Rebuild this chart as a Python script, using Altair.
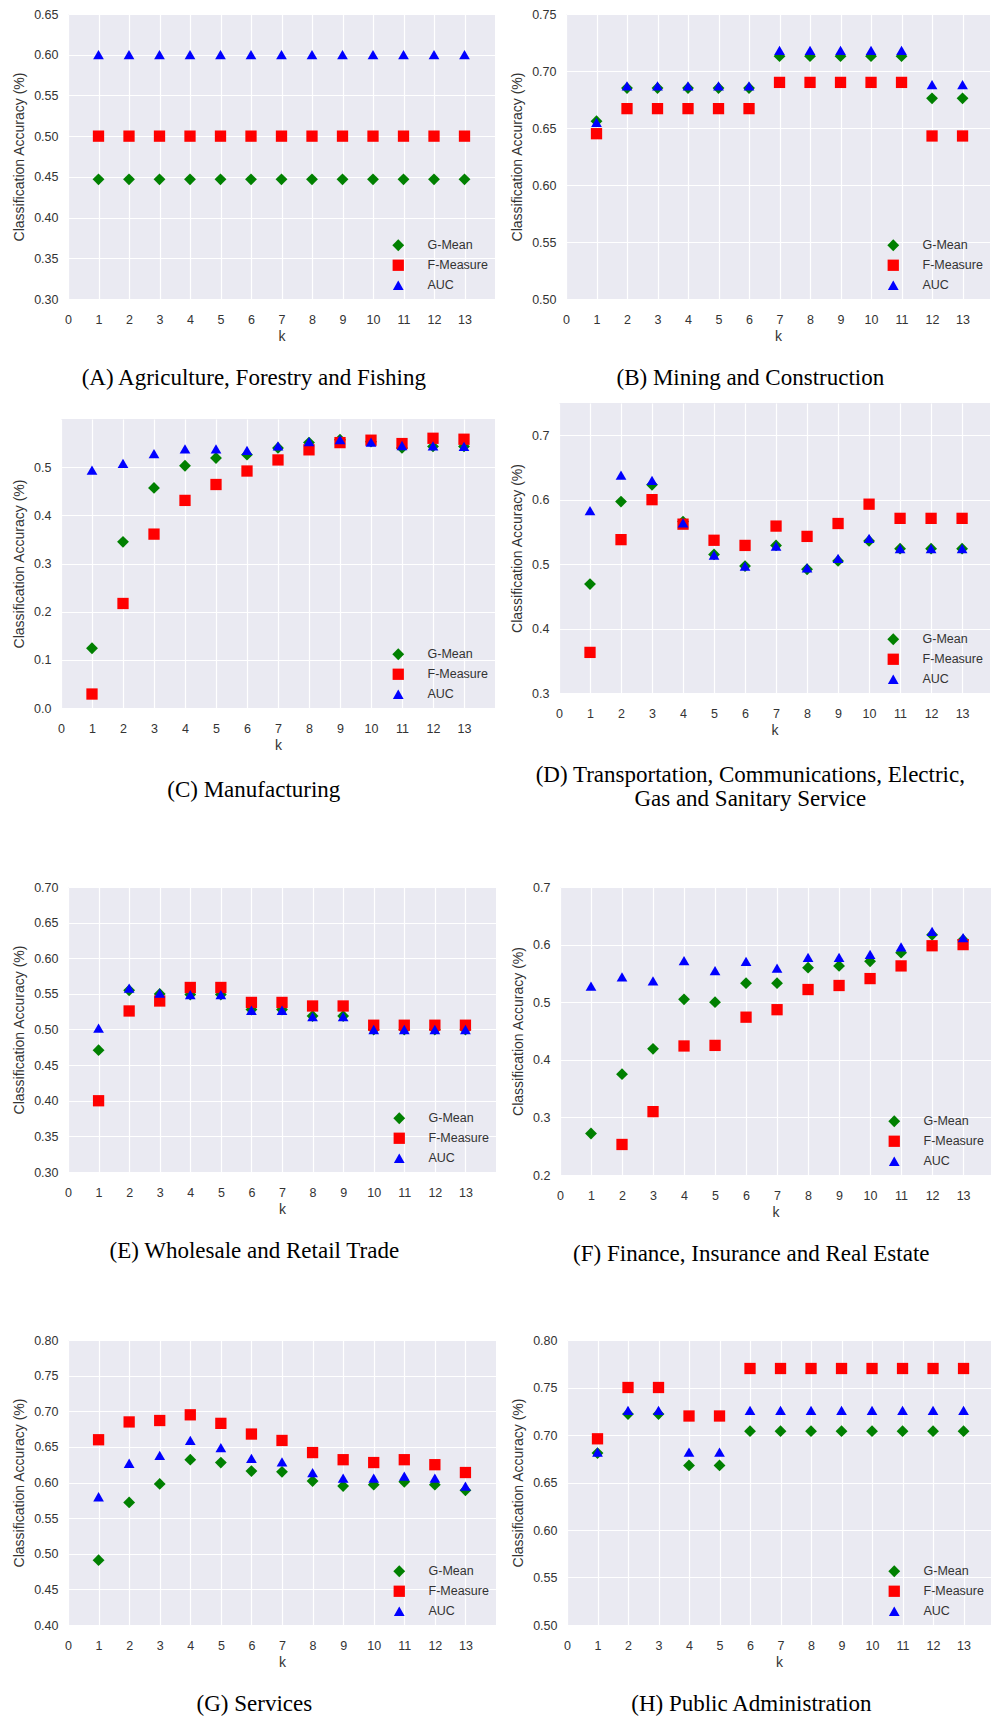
import altair as alt
import pandas as pd

K = [1, 2, 3, 4, 5, 6, 7, 8, 9, 10, 11, 12, 13]
SERIES = ["G-Mean", "F-Measure", "AUC"]
COLORS = ["#008000", "#ff0000", "#0000ff"]
SHAPES = ["diamond", "square", "triangle-up"]
SIZES = [140, 115, 90]
X_TICKS = [0, 1, 2, 3, 4, 5, 6, 7, 8, 9, 10, 11, 12, 13]

# (A) Agriculture, Forestry and Fishing
A_G = [0.447, 0.447, 0.447, 0.447, 0.447, 0.447, 0.447, 0.447, 0.447, 0.447, 0.447, 0.447, 0.447]
A_F = [0.500, 0.500, 0.500, 0.500, 0.500, 0.500, 0.500, 0.500, 0.500, 0.500, 0.500, 0.500, 0.500]
A_AUC = [0.600, 0.600, 0.600, 0.600, 0.600, 0.600, 0.600, 0.600, 0.600, 0.600, 0.600, 0.600, 0.600]
A_Y = [0.30, 0.35, 0.40, 0.45, 0.50, 0.55, 0.60, 0.65]

# (B) Mining and Construction
B_G = [0.656, 0.685, 0.685, 0.685, 0.685, 0.685, 0.713, 0.713, 0.713, 0.713, 0.713, 0.676, 0.676]
B_F = [0.645, 0.667, 0.667, 0.667, 0.667, 0.667, 0.690, 0.690, 0.690, 0.690, 0.690, 0.643, 0.643]
B_AUC = [0.655, 0.687, 0.687, 0.687, 0.687, 0.687, 0.718, 0.718, 0.718, 0.718, 0.718, 0.688, 0.688]
B_Y = [0.50, 0.55, 0.60, 0.65, 0.70, 0.75]

# (C) Manufacturing
C_G = [0.124, 0.345, 0.457, 0.503, 0.519, 0.526, 0.540, 0.551, 0.557, 0.553, 0.540, 0.543, 0.543]
C_F = [0.029, 0.217, 0.361, 0.431, 0.464, 0.492, 0.515, 0.536, 0.551, 0.556, 0.549, 0.560, 0.558]
C_AUC = [0.494, 0.508, 0.528, 0.538, 0.538, 0.535, 0.544, 0.553, 0.557, 0.552, 0.545, 0.544, 0.543]
C_Y = [0.0, 0.1, 0.2, 0.3, 0.4, 0.5]

# (D) Transportation, Communications, Electric, Gas and Sanitary Service
D_G = [0.469, 0.597, 0.623, 0.566, 0.515, 0.497, 0.529, 0.492, 0.505, 0.536, 0.524, 0.524, 0.524]
D_F = [0.363, 0.538, 0.600, 0.562, 0.537, 0.529, 0.559, 0.543, 0.563, 0.593, 0.571, 0.571, 0.571]
D_AUC = [0.583, 0.638, 0.630, 0.564, 0.514, 0.497, 0.528, 0.494, 0.509, 0.540, 0.524, 0.524, 0.524]
D_Y = [0.3, 0.4, 0.5, 0.6, 0.7]

# (E) Wholesale and Retail Trade
E_G = [0.471, 0.555, 0.550, 0.549, 0.549, 0.528, 0.528, 0.519, 0.519, 0.500, 0.500, 0.500, 0.500]
E_F = [0.400, 0.526, 0.540, 0.559, 0.559, 0.538, 0.538, 0.533, 0.533, 0.506, 0.506, 0.506, 0.506]
E_AUC = [0.502, 0.558, 0.551, 0.549, 0.549, 0.527, 0.527, 0.518, 0.518, 0.500, 0.500, 0.500, 0.500]
E_Y = [0.30, 0.35, 0.40, 0.45, 0.50, 0.55, 0.60, 0.65, 0.70]

# (F) Finance, Insurance and Real Estate  (F-Measure at k=1 lies below the axis)
F_G = [0.272, 0.375, 0.419, 0.505, 0.500, 0.533, 0.533, 0.560, 0.563, 0.571, 0.586, 0.617, 0.608]
F_F = [None, 0.253, 0.310, 0.424, 0.425, 0.474, 0.487, 0.522, 0.529, 0.541, 0.563, 0.598, 0.600]
F_AUC = [0.528, 0.544, 0.537, 0.572, 0.555, 0.571, 0.559, 0.578, 0.578, 0.583, 0.596, 0.623, 0.612]
F_Y = [0.2, 0.3, 0.4, 0.5, 0.6, 0.7]

# (G) Services
G_G = [0.491, 0.572, 0.598, 0.632, 0.628, 0.616, 0.615, 0.602, 0.595, 0.597, 0.601, 0.597, 0.589]
G_F = [0.660, 0.685, 0.687, 0.695, 0.683, 0.668, 0.659, 0.642, 0.632, 0.628, 0.632, 0.625, 0.614]
G_AUC = [0.580, 0.627, 0.638, 0.659, 0.649, 0.634, 0.629, 0.614, 0.606, 0.606, 0.609, 0.606, 0.595]
G_Y = [0.40, 0.45, 0.50, 0.55, 0.60, 0.65, 0.70, 0.75, 0.80]

# (H) Public Administration
H_G = [0.681, 0.722, 0.722, 0.668, 0.668, 0.704, 0.704, 0.704, 0.704, 0.704, 0.704, 0.704, 0.704]
H_F = [0.696, 0.750, 0.750, 0.720, 0.720, 0.770, 0.770, 0.770, 0.770, 0.770, 0.770, 0.770, 0.770]
H_AUC = [0.682, 0.726, 0.726, 0.682, 0.682, 0.726, 0.726, 0.726, 0.726, 0.726, 0.726, 0.726, 0.726]
H_Y = [0.50, 0.55, 0.60, 0.65, 0.70, 0.75, 0.80]

CAP_FONT = "Liberation Serif"
SANS = "Liberation Sans"
TXT = "#333333"

SP = pd.DataFrame({"z": [0]})


def spacer(w, h):
    return alt.Chart(SP).mark_rect(opacity=0).encode(
        x=alt.value(0), x2=alt.value(w), y=alt.value(0), y2=alt.value(h)
    ).properties(width=w, height=h)


def legend():
    return alt.Legend(
        title=None, orient="bottom-right", offset=7, padding=0,
        labelOffset=23, rowPadding=7, symbolStrokeWidth=0,
        labelFont=SANS, labelFontSize=12.5, labelColor=TXT,
    )


def panel(g, f, a, caption, ydom, yticks, yfmt, w, h, xmax, cap_offset=23):
    rows = []
    for name, vals in zip(SERIES, [g, f, a]):
        for k, v in zip(K, vals):
            if v is not None:
                rows.append({"k": k, "v": v, "s": name})
    df = pd.DataFrame(rows)
    return alt.Chart(df).mark_point(filled=True, opacity=1, clip=True).encode(
        x=alt.X("k:Q", scale=alt.Scale(domain=[0, xmax], nice=False, zero=False),
                axis=alt.Axis(values=X_TICKS, title="k", labelPadding=14,
                              titlePadding=4, format="d")),
        y=alt.Y("v:Q", scale=alt.Scale(domain=ydom, nice=False, zero=False),
                axis=alt.Axis(values=yticks, format=yfmt,
                              title="Classification Accuracy (%)", titlePadding=7)),
        color=alt.Color("s:N", scale=alt.Scale(domain=SERIES, range=COLORS), legend=legend()),
        shape=alt.Shape("s:N", scale=alt.Scale(domain=SERIES, range=SHAPES), legend=legend()),
        size=alt.Size("s:N", scale=alt.Scale(domain=SERIES, range=SIZES), legend=legend()),
    ).properties(
        width=w, height=h,
        view=alt.ViewBackground(fill="#EAEAF2", stroke=None),
        title=alt.TitleParams(
            text=caption, orient="bottom", anchor="middle", frame="bounds",
            font=CAP_FONT, fontSize=23, fontWeight="normal", color="black",
            offset=cap_offset, lineHeight=24, baseline="top",
        ),
    )


def indep(ch):
    return ch.resolve_scale(
        color="independent", shape="independent", size="independent",
        x="independent", y="independent",
    ).resolve_legend(color="independent", shape="independent", size="independent")


pA = panel(A_G, A_F, A_AUC, "(A) Agriculture, Forestry and Fishing", [0.30, 0.65], A_Y, ".2f", 427, 285, 14)
pB = panel(B_G, B_F, B_AUC, "(B) Mining and Construction", [0.50, 0.75], B_Y, ".2f", 424, 285, 13.9)
pC = panel(C_G, C_F, C_AUC, "(C) Manufacturing", [0.0, 0.6], C_Y, ".1f", 434, 289, 14, cap_offset=26)
pD = panel(D_G, D_F, D_AUC, ["(D) Transportation, Communications, Electric,", "Gas and Sanitary Service"],
           [0.3, 0.75], D_Y, ".1f", 431, 290, 13.9, cap_offset=26)
pE = panel(E_G, E_F, E_AUC, "(E) Wholesale and Retail Trade", [0.30, 0.70], E_Y, ".2f", 428, 285, 14)
pF = panel(F_G, F_F, F_AUC, "(F) Finance, Insurance and Real Estate", [0.2, 0.7], F_Y, ".1f", 431, 288, 13.9)
pG = panel(G_G, G_F, G_AUC, "(G) Services", [0.40, 0.80], G_Y, ".2f", 428, 285, 14)
pH = panel(H_G, H_F, H_AUC, "(H) Public Administration", [0.50, 0.80], H_Y, ".2f", 424, 285, 13.9)

pC_wrapped = indep(alt.vconcat(spacer(1, 16), pC, spacing=0))


def row(left, right, pitch):
    inner = indep(alt.hconcat(left, right, spacing=15))
    return indep(alt.hconcat(spacer(12, pitch), inner, spacing=0))


chart = indep(alt.vconcat(
    row(pA, pB, 389),
    row(pC_wrapped, pD, 478),
    row(pE, pF, 447),
    row(pG, pH, 2),
    spacing=0,
)).properties(
    padding={"left": 0, "top": 8, "right": 0, "bottom": 0},
    background="white",
).configure(
    font=SANS,
).configure_view(
    stroke=None,
).configure_axis(
    domain=False, ticks=False, grid=True, gridColor="white", gridWidth=1.2, gridOpacity=1,
    labelFont=SANS, labelFontSize=12.5, labelColor=TXT, labelPadding=10,
    labelFlush=False, labelOverlap=False,
    titleFont=SANS, titleFontSize=14, titleFontWeight="normal", titleColor=TXT,
)

chart.save("out.html", embed_options={"renderer": "svg", "actions": False})
